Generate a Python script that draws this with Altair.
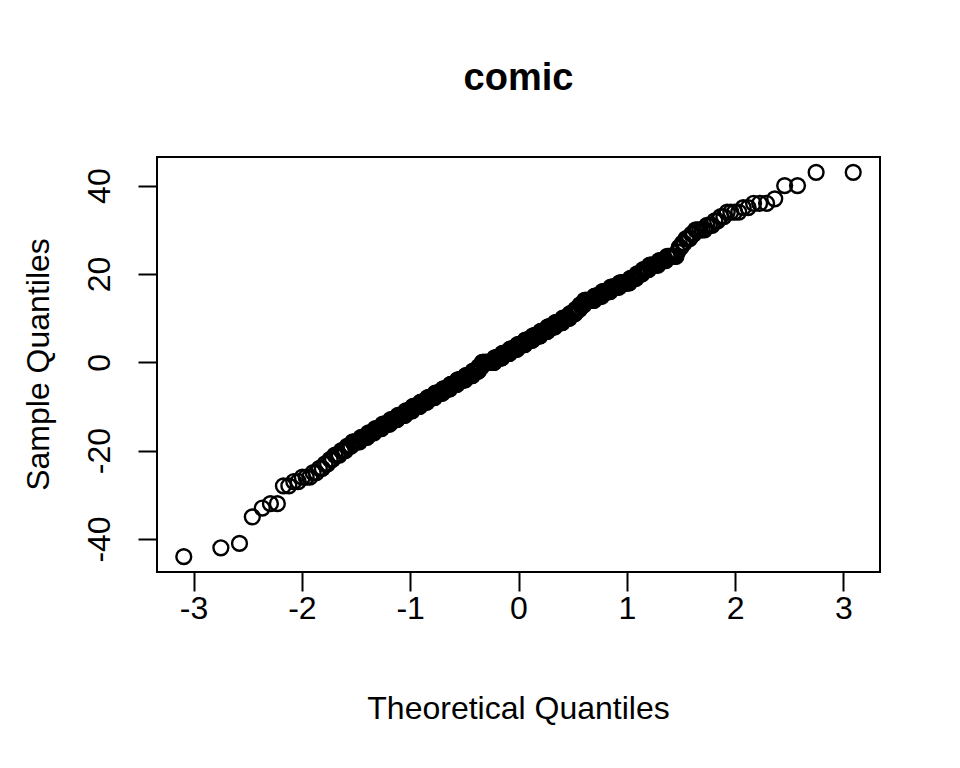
import statistics
import pandas as pd
import altair as alt

# Sorted sample values
lower_tail = [-44, -42, -41, -35, -33, -32, -32, -28, -28, -27, -27, -26, -26, -26,
              -25, -25, -24, -24, -23, -23, -22, -22, -21, -21, -21, -20, -20, -20]
mid_values = list(range(-19, 25))
mid_counts = [3, 5, 5, 5, 6, 7, 7, 8, 8, 9, 9, 10, 11, 11, 11, 13, 12, 10, 6, 22,
              14, 14, 14, 14, 14, 14, 13, 13, 13, 12, 9, 7, 7, 15, 11, 11, 11, 12,
              7, 6, 6, 8, 6, 7]
upper_tail = [25, 26, 26, 27, 27, 28, 28, 28, 29, 29, 30, 30, 30, 30, 30, 31, 31, 31,
              32, 32, 33, 33, 34, 34, 34, 34, 35, 35, 36, 36, 36, 37, 40, 40, 43, 43]

x_ticks = [-3, -2, -1, 0, 1, 2, 3]
y_ticks = [-40, -20, 0, 20, 40]

sample = list(lower_tail)
for v, c in zip(mid_values, mid_counts):
    sample += [v] * c
sample += upper_tail
sample = sorted(sample)
n = len(sample)
nd = statistics.NormalDist()
theo = [nd.inv_cdf((i + 0.5) / n) for i in range(n)]
df = pd.DataFrame({"theo": theo, "sample": sample})

def ext(lo, hi):
    d = (hi - lo) * 0.04
    return [lo - d, hi + d]

xdom = ext(min(theo), max(theo))
ydom = ext(min(sample), max(sample))

FONT = "Liberation Sans"
W, H = 723, 415

points = alt.Chart(df).mark_point(
    shape="circle", filled=False, color="black", size=220, strokeWidth=2.4, opacity=1
).encode(
    x=alt.X("theo:Q", scale=alt.Scale(domain=xdom, nice=False, zero=False),
            axis=alt.Axis(values=x_ticks, title=None, orient="bottom",
                          labelExpr="datum.value + ''",
                          labelBaseline="alphabetic", labelPadding=27)),
    y=alt.Y("sample:Q", scale=alt.Scale(domain=ydom, nice=False, zero=False),
            axis=alt.Axis(values=y_ticks, title=None, orient="left",
                          labelExpr="datum.value + ''",
                          labelAngle=270, labelAlign="center",
                          labelBaseline="alphabetic", labelPadding=29)),
)

def label(txt, x, y, angle=0, size=32, weight="normal"):
    return alt.Chart(pd.DataFrame({"t": [txt]})).mark_text(
        font=FONT, fontSize=size, fontWeight=weight, color="black",
        align="center", baseline="alphabetic", angle=angle
    ).encode(text="t:N", x=alt.value(x), y=alt.value(y))

title = label("comic", W / 2, -67, size=38, weight="bold")
xtitle = label("Theoretical Quantiles", W / 2, 562)
ytitle = label("Sample Quantiles", -108, H / 2, angle=270)

chart = alt.layer(points, title, xtitle, ytitle).properties(
    width=W, height=H,
    padding={"left": 149, "top": 149, "right": 72, "bottom": 188},
    autosize=alt.AutoSizeParams(type="none"),
    background="white",
).configure_view(
    stroke="black", strokeWidth=2
).configure_axis(
    domain=False, grid=False, ticks=True, tickColor="black", tickWidth=2,
    tickSize=19, labelFont=FONT, labelFontSize=32, labelColor="black",
    labelOverlap=False, labelFlush=False
)

chart.save("out.html", embed_options={"renderer": "svg", "actions": False})
